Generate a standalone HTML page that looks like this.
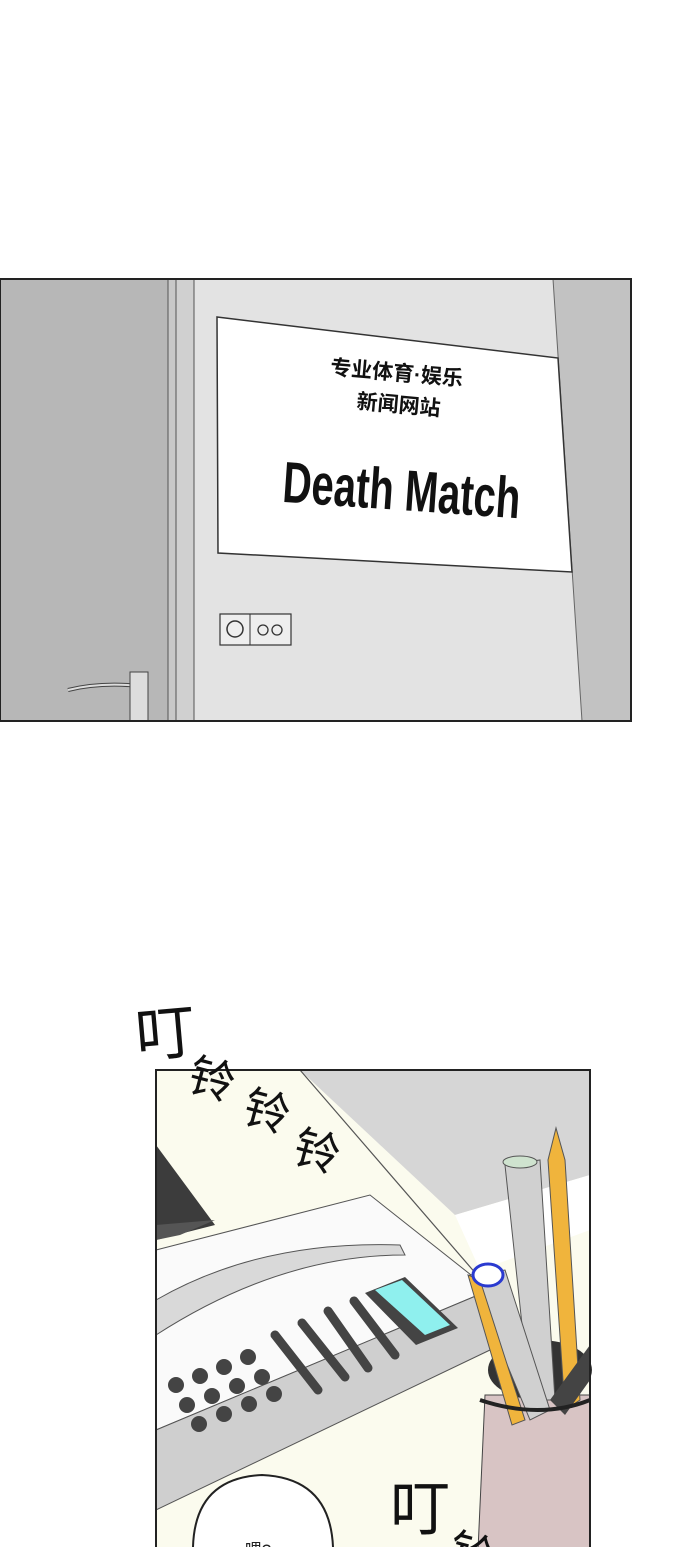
<!DOCTYPE html>
<html><head><meta charset="utf-8"><style>
html,body{margin:0;padding:0;background:#fff;}
body{width:690px;height:1547px;overflow:hidden;position:relative;}
svg{position:absolute;left:0;top:0;}
text{font-family:"Liberation Sans","Noto Sans CJK SC",sans-serif;}
</style></head><body>
<svg width="690" height="1547" viewBox="0 0 690 1547">
<!-- Panel 1 -->
<rect x="0" y="279" width="631" height="442" fill="#e3e3e3"/>
<rect x="0" y="279" width="168" height="442" fill="#b7b7b7"/>
<rect x="168" y="279" width="8" height="442" fill="#c8c8c8" stroke="#555" stroke-width="1"/>
<rect x="176" y="279" width="18" height="442" fill="#d0d0d0" stroke="#555" stroke-width="1"/>
<polygon points="553,279 631,279 631,721 582,721" fill="#c2c2c2" stroke="#666" stroke-width="1"/>
<polygon points="217,317 558,358 572,572 218,553" fill="#fff" stroke="#333" stroke-width="1.5"/>
<text x="396" y="380" font-size="21" font-weight="bold" text-anchor="middle" fill="#111" transform="rotate(5 396 380)">专业体育·娱乐</text>
<text x="398" y="412" font-size="21" font-weight="bold" text-anchor="middle" fill="#111" transform="rotate(5 398 412)">新闻网站</text>
<text x="282" y="510" font-size="58" font-weight="bold" fill="#111" transform="rotate(4 400 500)" textLength="238" lengthAdjust="spacingAndGlyphs">Death Match</text>
<rect x="220" y="614" width="71" height="31" fill="#eee" stroke="#333" stroke-width="1.2"/>
<line x1="250" y1="614" x2="250" y2="645" stroke="#333"/>
<circle cx="235" cy="629" r="8" fill="none" stroke="#333" stroke-width="1.5"/>
<circle cx="263" cy="630" r="5" fill="none" stroke="#333" stroke-width="1.3"/>
<circle cx="277" cy="630" r="5" fill="none" stroke="#333" stroke-width="1.3"/>
<path d="M68,690 Q100,682 140,686" fill="none" stroke="#444" stroke-width="4"/>
<path d="M68,690 Q100,682 140,686" fill="none" stroke="#ddd" stroke-width="2"/>
<rect x="130" y="672" width="18" height="49" fill="#ddd" stroke="#444"/>
<rect x="0" y="279" width="631" height="442" fill="none" stroke="#222" stroke-width="2"/>

<!-- Panel 2 -->
<rect x="156" y="1070" width="434" height="480" fill="#fbfbee"/>
<polygon points="300,1070 590,1070 590,1175 455,1215" fill="#d6d6d6"/>
<polygon points="455,1215 590,1175 590,1230 480,1270" fill="#fff"/>
<line x1="300" y1="1070" x2="490" y2="1290" stroke="#555" stroke-width="1.2"/>
<polygon points="156,1145 215,1225 156,1240" fill="#3c3c3c"/>
<polygon points="156,1225 215,1220 180,1235 156,1240" fill="#555"/>
<!-- phone -->
<polygon points="156,1250 370,1195 490,1290 156,1430" fill="#fafafa" stroke="#555" stroke-width="1"/>
<polygon points="156,1430 490,1290 490,1350 156,1510" fill="#cfcfcf" stroke="#555" stroke-width="1"/>
<path d="M156,1300 Q260,1240 400,1245 L405,1255 Q280,1255 156,1335 Z" fill="#d9d9d9" stroke="#555"/>
<polygon points="365,1293 405,1277 458,1328 416,1345" fill="#444"/>
<polygon points="375,1290 402,1280 450,1325 425,1335" fill="#8ff0ee"/>
<g fill="#444">
<circle cx="176" cy="1385" r="8"/><circle cx="200" cy="1376" r="8"/><circle cx="224" cy="1367" r="8"/><circle cx="248" cy="1357" r="8"/>
<circle cx="187" cy="1405" r="8"/><circle cx="212" cy="1396" r="8"/><circle cx="237" cy="1386" r="8"/><circle cx="262" cy="1377" r="8"/>
<circle cx="199" cy="1424" r="8"/><circle cx="224" cy="1414" r="8"/><circle cx="249" cy="1404" r="8"/><circle cx="274" cy="1394" r="8"/>
</g>
<g stroke="#444" stroke-width="9" stroke-linecap="round">
<line x1="275" y1="1335" x2="318" y2="1390"/><line x1="302" y1="1323" x2="345" y2="1377"/>
<line x1="328" y1="1311" x2="368" y2="1368"/><line x1="354" y1="1301" x2="395" y2="1355"/>
</g>
<!-- pens -->
<polygon points="485,1395 590,1395 590,1550 478,1550" fill="#d8c4c4" stroke="#444"/>
<ellipse cx="540" cy="1370" rx="52" ry="30" fill="#333"/>
<polygon points="505,1165 540,1160 555,1400 530,1400" fill="#d0d0d0" stroke="#555"/>
<ellipse cx="520" cy="1162" rx="17" ry="6" fill="#cfe3cf" stroke="#555"/>
<polygon points="548,1160 556,1128 565,1160 580,1400 565,1410" fill="#f0b43c" stroke="#555"/>
<polygon points="470,1275 505,1270 550,1410 530,1420" fill="#d0d0d0" stroke="#555"/>
<polygon points="468,1275 480,1280 525,1420 512,1425" fill="#f0b43c" stroke="#555"/>
<ellipse cx="488" cy="1275" rx="15" ry="11" fill="#fff" stroke="#2a3ad0" stroke-width="3"/>
<polygon points="550,1400 590,1345 590,1380 565,1415" fill="#444"/>
<path d="M480,1400 Q540,1420 590,1400" fill="none" stroke="#222" stroke-width="4"/>
<!-- bubble -->
<path d="M193,1547 Q195,1478 262,1475 Q330,1478 333,1547" fill="#fff" stroke="#222" stroke-width="2"/>
<text x="258" y="1556" font-size="17" text-anchor="middle" fill="#222">喂?</text>
<rect x="156" y="1070" width="434" height="480" fill="none" stroke="#222" stroke-width="2"/>
<!-- SFX -->
<g font-size="46" fill="#111">
<text x="135" y="1055" font-size="60" transform="rotate(-5 160 1030)">叮</text>
<text x="190" y="1095" transform="rotate(15 210 1075)">铃</text>
<text x="245" y="1127" transform="rotate(15 265 1107)">铃</text>
<text x="295" y="1167" transform="rotate(15 315 1147)">铃</text>
<text x="390" y="1530" font-size="60">叮</text>
<text x="450" y="1570" font-size="46" transform="rotate(15 470 1550)">铃</text>
</g>
</svg>
</body></html>
